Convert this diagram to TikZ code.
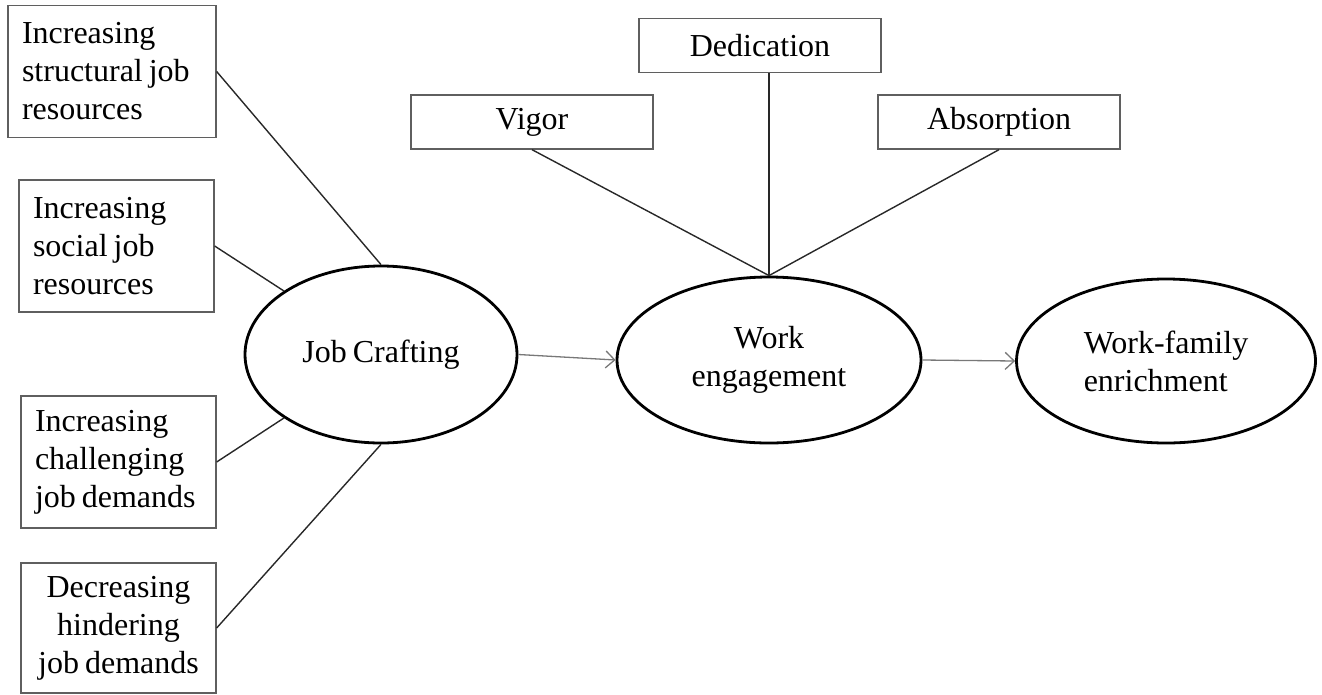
\documentclass[tikz,border=0pt]{standalone}
\usepackage{fontspec}
\setmainfont{Liberation Serif}[WordSpace=0.75]
\usepackage{tikz}
\usepackage{xcolor}
\usetikzlibrary{shapes.geometric, arrows.meta}
\definecolor{boxline}{RGB}{95, 95, 95}
\definecolor{linkline}{RGB}{40, 40, 40}
\definecolor{arrowline}{RGB}{120, 120, 120}

\begin{document}
\begin{tikzpicture}[
    x=1pt, y=-1pt,
    every node/.style={font=\fontsize{32}{38}\selectfont},
    dimension/.style={
        rectangle, draw=boxline, line width=1.3pt,
        inner xsep=14pt, inner ysep=0pt,
        minimum height=132pt, align=flush left
    },
    facet/.style={
        rectangle, draw=boxline, line width=1.3pt,
        minimum width=242pt, minimum height=54pt, inner sep=0pt
    },
    construct/.style={
        ellipse, draw=black, line width=2.8pt, inner sep=0pt
    },
    link/.style={draw=linkline, line width=1.4pt},
    arrow/.style={
        -{Straight Barb[length=9pt, width=17pt]}, line width=1.3pt, draw=arrowline
    }
]
\useasboundingbox (0,0) rectangle (1322,694);

% Job crafting dimensions
\node[dimension, text width=180pt] (structural) at (112, 71.5) {Increasing\\structural job\\resources};
\node[dimension, text width=167pt] (social) at (116.5, 246) {Increasing\\social job\\resources};
\node[dimension, text width=167pt] (challenging) at (118.5, 462) {Increasing\\challenging\\job demands};
\node[dimension, text width=167pt, align=flush center, minimum height=130pt] (hindering) at (118.5, 628) {Decreasing\\hindering\\job demands};

% Engagement facets
\node[facet] (vigor) at (532, 122) {Vigor};
\node[facet] (dedication) at (760, 45.5) {Dedication};
\node[facet] (absorption) at (999, 122) {Absorption};

% Main constructs
\node[construct, minimum width=272pt, minimum height=177pt] (crafting) at (381, 354.5) {Job Crafting};
\node[construct, minimum width=304pt, minimum height=166pt, align=center] (engagement) at (769, 360) {Work\\engagement};
\node[construct, minimum width=299pt, minimum height=164pt, align=left] (enrichment) at (1166, 361) {Work-family\\enrichment};

% Links
\draw[link] (structural.east) -- (crafting.north);
\draw[link] (social.east) -- (crafting.north west);
\draw[link] (challenging.east) -- (crafting.south west);
\draw[link] (hindering.east) -- (crafting.south);
\draw[link] (vigor.south) -- (engagement.north);
\draw[link] (engagement.north |- dedication.south) -- (engagement.north);
\draw[link] (absorption.south) -- (engagement.north);

% Arrows
\draw[arrow] (crafting.east) -- (engagement.west);
\draw[arrow] (engagement.east) -- (enrichment.west);

\end{tikzpicture}
\end{document}
